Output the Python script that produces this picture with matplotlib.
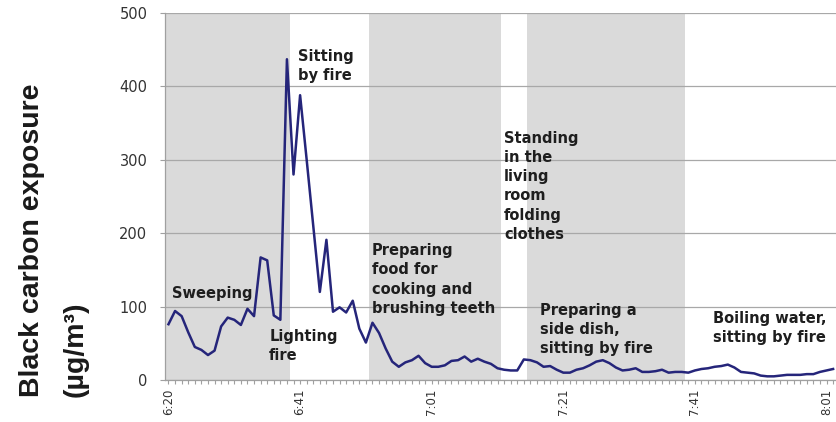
import numpy as np
import matplotlib
matplotlib.use("Agg")
import matplotlib.pyplot as plt
from matplotlib.ticker import MultipleLocator

# ---- data ----
bc_values = [76, 94, 87, 65, 45, 41, 34, 40, 73, 85,
             82, 75, 97, 87, 167, 163, 88, 82, 437, 280,
             388, 300, 210, 120, 191, 93, 99, 92, 108, 70,
             51, 78, 64, 43, 25, 18, 24, 27, 33, 23,
             18, 18, 20, 26, 27, 32, 25, 29, 25, 22,
             16, 14, 13, 13, 28, 27, 24, 18, 19, 14,
             10, 10, 14, 16, 20, 25, 27, 23, 17, 13,
             14, 16, 11, 11, 12, 14, 10, 11, 11, 10,
             13, 15, 16, 18, 19, 21, 17, 11, 10, 9,
             6, 5, 5, 6, 7, 7, 7, 8, 8, 11,
             13, 15]
tick_index = [0, 20, 40, 60, 80, 100]
tick_labels = ["6:20", "6:41", "7:01", "7:21", "7:41", "8:01"]
band_start = [-0.6, 30.5, 54.5]
band_end = [18.5, 50.5, 78.5]
activity_labels = ["Sweeping", "Sitting\nby fire", "Lighting\nfire",
                   "Preparing\nfood for\ncooking and\nbrushing teeth",
                   "Standing\nin the\nliving\nroom\nfolding\nclothes",
                   "Preparing a\nside dish,\nsitting by fire",
                   "Boiling water,\nsitting by fire"]
activity_x = [0.5, 19.7, 15.3, 30.9, 51.0, 56.5, 82.7]
activity_y = [118, 428, 46, 137, 264, 69, 71]
y_ticks = [0, 100, 200, 300, 400, 500]

W, H = 836, 422
fig = plt.figure(figsize=(W / 100, H / 100), dpi=100)
ax = fig.add_axes([165 / W, (H - 380) / H, 1 - 165 / W, (380 - 13) / H])

x = np.arange(len(bc_values))
ax.set_xlim(-0.53, 101.44)
ax.set_ylim(0, 500)

for s, e in zip(band_start, band_end):
    ax.axvspan(s, e, color="#dadada", lw=0, zorder=0)

ax.yaxis.grid(True, color="#a8a8a8", lw=0.9, zorder=1)
ax.set_axisbelow(True)

ax.plot(x, bc_values, color="#25257a", lw=1.8, zorder=3)

for lab, lx, ly in zip(activity_labels, activity_x, activity_y):
    ax.text(lx, ly, lab, ha="left", va="center", fontsize=10.5,
            fontweight="bold", color="#1e1e1e", linespacing=1.35, zorder=4)

for sp in ["top", "right"]:
    ax.spines[sp].set_visible(False)
for sp in ["left", "bottom"]:
    ax.spines[sp].set_color("#a0a0a0")
    ax.spines[sp].set_linewidth(0.9)

ax.set_yticks(y_ticks)
ax.tick_params(axis="y", length=3.6, width=0.8, color="#a0a0a0", pad=9,
               labelsize=10.5, labelcolor="#333333")
ax.set_xticks(tick_index)
ax.set_xticklabels(tick_labels, rotation=90)
ax.xaxis.set_minor_locator(MultipleLocator(1))
ax.tick_params(axis="x", which="both", length=3, width=0.8, color="#a0a0a0",
               pad=3, labelsize=8.5, labelcolor="#333333")

fig.text(19 / W, 25 / H, "Black carbon exposure\n(µg/m³)", rotation=90,
         ha="left", va="bottom", multialignment="left", fontsize=20.5,
         fontweight="bold", family="Liberation Sans", linespacing=1.9,
         color="#1a1a1a")

fig.savefig("out.png", dpi=100)
